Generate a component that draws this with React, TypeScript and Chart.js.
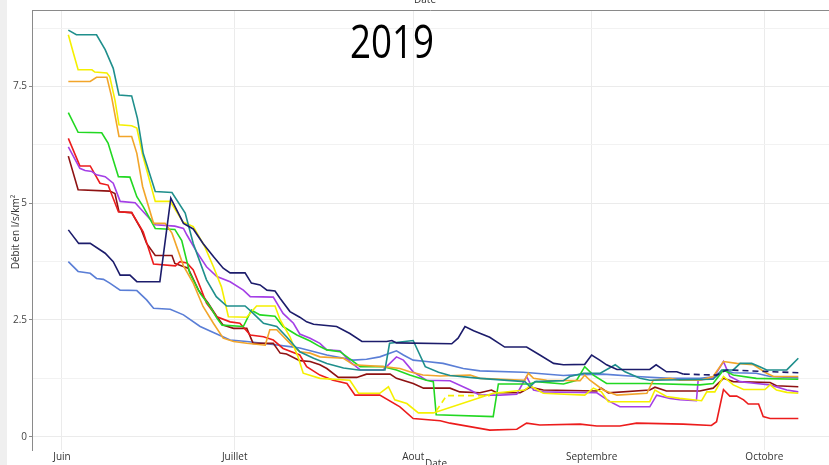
import { useEffect, useRef } from 'react';
import { Chart, registerables } from 'chart.js';

Chart.register(...registerables);

// Days counted from 1 June 2019
const monthTicks = [0, 30, 61, 92, 122];
const monthLabels = ['Juin', 'Juillet', 'Aout', 'Septembre', 'Octobre'];
const yTicks = [0, 1.25, 2.5, 3.75, 5, 6.25, 7.5, 8.75];
const yLabelled = [0, 2.5, 5, 7.5];

const tealPts = [[1.1,8.71],[2.5,8.61],[6.0,8.61],[7.5,8.29],[8.9,7.89],[9.9,7.32],[12.1,7.30],[13.1,6.82],[14.1,6.07],[16.2,5.25],[19.1,5.23],[21.4,4.79],[22.8,4.14],[25.1,3.36],[26.8,3.0],[28.6,2.8],[31.8,2.8],[32.9,2.68],[35.0,2.43],[37.3,2.36],[39.0,2.14],[41.3,1.82],[43.7,1.68],[46.0,1.57],[48.9,1.47],[51.5,1.43],[56.1,1.43],[56.9,2.0],[61.0,2.06],[63.1,1.5],[65.4,1.38],[67.4,1.31],[72.6,1.25],[80.4,1.18],[81.3,1.07],[82.2,1.18],[87.1,1.2],[88.2,1.29],[90.6,1.36],[93.5,1.36],[96.1,1.54],[97.8,1.39],[100.4,1.25],[102.1,1.21],[113.1,1.23],[114.6,1.43],[116.6,1.43],[117.8,1.57],[119.8,1.57],[121.2,1.5],[122.4,1.43],[125.9,1.43],[127.9,1.68]];
const yellowPts = [[1.1,8.61],[2.0,8.21],[2.8,7.86],[5.2,7.86],[5.7,7.81],[7.8,7.79],[8.3,7.71],[9.2,7.21],[9.9,6.68],[12.1,6.66],[13.0,6.61],[14.0,6.04],[16.2,5.04],[18.8,5.04],[21.0,4.6],[22.8,4.5],[24.8,4.07],[26.3,3.64],[27.7,3.21],[28.9,2.57],[32.1,2.56],[33.8,2.8],[37.0,2.8],[37.9,2.5],[39.6,2.14],[40.5,1.86],[41.0,1.71],[41.9,1.36],[44.8,1.25],[50.0,1.21],[51.5,0.93],[55.2,0.93],[56.7,1.07],[57.8,0.79],[59.9,0.71],[61.9,0.51],[64.5,0.51],[74.9,0.93],[80.4,1.0],[81.3,1.09],[83.6,0.93],[90.8,0.89],[92.3,1.04],[93.7,0.96],[94.9,0.75],[102.1,0.75],[103.0,1.0],[105.0,0.86],[107.3,0.82],[111.1,0.77],[112.0,0.96],[113.4,0.96],[114.9,1.29],[116.6,1.11],[118.4,1.01],[122.1,1.01],[123.0,1.11],[124.1,1.0],[125.9,0.95],[127.9,0.93]];
const yellowDashPts = [[65.0,0.55],[66.8,0.88],[74.3,0.88]];
const orangePts = [[1.1,7.61],[4.9,7.61],[6.0,7.7],[7.8,7.7],[8.6,7.29],[9.9,6.43],[12.1,6.43],[13.0,6.07],[14.0,5.36],[15.9,4.57],[17.9,4.57],[19.1,4.36],[21.1,3.66],[22.8,3.29],[24.5,2.79],[26.3,2.43],[28.0,2.11],[29.8,2.04],[32.1,2.0],[35.3,1.96],[36.1,2.29],[37.3,2.29],[39.6,2.0],[41.3,1.82],[43.1,1.79],[44.8,1.71],[48.9,1.68],[50.6,1.54],[55.8,1.5],[58.7,1.46],[60.4,1.39],[62.7,1.32],[65.7,1.3],[70.9,1.32],[72.6,1.25],[80.4,1.21],[81.0,1.36],[81.9,1.25],[84.2,1.21],[90.0,1.2],[90.8,1.32],[91.7,1.21],[94.0,1.0],[96.4,0.89],[101.6,0.93],[102.7,1.21],[105.6,1.25],[107.3,1.21],[110.8,1.21],[113.1,1.29],[114.9,1.61],[117.2,1.57],[120.1,1.54],[122.4,1.36],[123.6,1.29],[127.9,1.29]];
const greenPts = [[1.1,6.94],[2.8,6.52],[6.9,6.51],[8.0,6.29],[9.8,5.57],[11.8,5.56],[13.0,5.14],[14.1,4.93],[16.2,4.46],[19.6,4.44],[20.8,4.2],[22.2,3.5],[24.0,3.07],[25.7,2.79],[26.9,2.54],[27.8,2.39],[31.5,2.36],[32.9,2.71],[34.4,2.61],[37.0,2.58],[38.4,2.36],[40.8,2.18],[43.1,2.05],[44.8,1.93],[46.0,1.86],[48.3,1.82],[51.8,1.5],[55.8,1.5],[58.1,1.43],[60.4,1.32],[63.3,1.21],[64.5,1.18],[65.0,0.47],[74.9,0.43],[75.8,1.13],[81.3,1.13],[82.4,1.18],[87.1,1.13],[89.4,1.21],[90.8,1.5],[92.3,1.32],[94.6,1.14],[101.6,1.14],[110.8,1.11],[113.1,1.14],[114.9,1.43],[116.6,1.32],[120.6,1.25],[127.9,1.23]];
const redPts = [[1.1,6.39],[3.1,5.8],[4.9,5.8],[6.6,5.43],[8.0,5.39],[9.8,4.82],[12.1,4.8],[14.1,4.39],[15.9,3.7],[19.7,3.66],[20.5,3.75],[21.7,3.72],[22.8,3.57],[24.0,3.21],[25.1,2.86],[26.9,2.57],[29.2,2.46],[30.9,2.43],[32.7,2.18],[35.0,2.14],[36.7,2.07],[38.4,1.89],[41.3,1.75],[42.5,1.5],[44.8,1.32],[47.1,1.21],[49.5,1.14],[50.9,0.89],[55.2,0.89],[58.7,0.64],[61.0,0.39],[65.7,0.34],[67.4,0.29],[74.3,0.14],[79.0,0.16],[80.7,0.29],[83.0,0.25],[90.0,0.27],[92.9,0.23],[96.9,0.23],[99.8,0.29],[107.9,0.27],[112.8,0.24],[113.7,0.32],[114.9,1.01],[116.0,0.87],[117.2,0.87],[118.4,0.79],[119.2,0.7],[121.0,0.7],[121.8,0.43],[123.0,0.39],[127.9,0.39]];
const purplePts = [[1.1,6.21],[3.1,5.75],[4.0,5.7],[5.2,5.68],[6.0,5.61],[7.5,5.57],[8.9,5.43],[10.1,5.04],[12.7,5.01],[13.8,4.86],[16.2,4.54],[19.6,4.51],[21.1,4.46],[21.7,4.32],[23.4,3.96],[25.1,3.64],[26.9,3.43],[29.2,3.32],[31.5,3.14],[32.7,3.0],[36.7,2.99],[38.4,2.64],[40.2,2.43],[41.3,2.2],[43.1,2.11],[44.8,2.0],[46.0,1.86],[48.3,1.84],[50.0,1.61],[51.8,1.43],[55.8,1.43],[58.1,1.71],[59.3,1.64],[61.0,1.39],[63.3,1.21],[67.4,1.2],[70.9,1.0],[72.6,0.89],[76.1,0.89],[79.0,0.91],[80.7,1.29],[81.9,1.0],[83.6,0.96],[92.9,0.94],[95.2,0.75],[96.9,0.64],[102.1,0.64],[103.3,0.89],[105.6,0.82],[107.3,0.79],[110.2,0.77],[110.5,1.21],[113.1,1.25],[114.9,1.61],[116.0,1.29],[117.8,1.18],[120.6,1.14],[123.0,1.11],[125.9,1.0],[127.9,0.96]];
const darkRedPts = [[1.1,6.01],[2.8,5.29],[8.3,5.26],[9.2,5.21],[9.9,4.82],[12.1,4.8],[13.8,4.43],[14.7,4.14],[16.2,3.88],[19.1,3.88],[19.6,3.71],[21.9,3.61],[23.7,3.14],[25.4,2.86],[26.9,2.57],[28.0,2.39],[29.8,2.32],[32.1,2.32],[33.2,2.0],[36.7,2.0],[37.9,1.79],[39.0,1.77],[41.3,1.63],[43.1,1.61],[44.8,1.54],[46.0,1.46],[48.0,1.27],[51.2,1.27],[52.9,1.34],[57.0,1.34],[58.1,1.25],[61.0,1.14],[62.8,1.04],[67.4,1.04],[69.1,0.96],[72.6,0.94],[74.6,1.0],[75.5,0.94],[79.6,0.94],[81.3,1.06],[83.6,1.0],[92.9,0.98],[93.7,1.04],[94.9,0.94],[102.1,1.0],[103.0,1.06],[105.0,0.98],[110.8,0.98],[113.1,1.04],[114.9,1.25],[116.6,1.18],[123.0,1.16],[124.1,1.09],[127.9,1.07]];
const navyPts = [[1.1,4.43],[2.9,4.14],[4.9,4.14],[7.5,3.93],[8.9,3.75],[10.1,3.46],[11.8,3.46],[13.0,3.32],[17.0,3.32],[18.9,5.11],[21.1,4.57],[22.8,4.45],[24.5,4.14],[26.3,3.86],[28.0,3.61],[29.2,3.51],[31.8,3.51],[32.9,3.29],[34.4,3.25],[35.6,3.14],[37.0,3.12],[37.9,2.96],[39.6,2.68],[41.3,2.56],[42.5,2.46],[43.7,2.41],[47.7,2.36],[50.0,2.21],[52.1,2.04],[56.4,2.04],[57.3,2.06],[58.1,2.01],[67.7,1.99],[68.8,2.11],[70.0,2.36],[71.5,2.27],[74.3,2.13],[76.9,1.92],[80.7,1.92],[83.0,1.75],[85.4,1.57],[87.1,1.54],[90.8,1.55],[92.0,1.75],[93.4,1.64],[94.6,1.54],[96.4,1.44],[102.1,1.44],[103.2,1.54],[105.0,1.39],[106.8,1.39],[108.0,1.34]];
const navyDashPts = [[108.0,1.34],[113.7,1.32],[115.4,1.43],[127.9,1.37]];
const bluePts = [[1.1,3.75],[2.8,3.54],[4.9,3.5],[6.0,3.39],[7.2,3.37],[8.3,3.29],[10.1,3.14],[13.0,3.13],[14.7,2.93],[15.9,2.75],[18.8,2.73],[21.1,2.61],[24.0,2.36],[26.3,2.23],[29.2,2.07],[32.1,2.04],[35.6,1.99],[39.6,1.93],[41.3,1.9],[46.0,1.75],[50.6,1.64],[52.9,1.66],[55.2,1.71],[58.1,1.84],[59.3,1.75],[61.0,1.64],[63.3,1.61],[66.2,1.57],[69.7,1.46],[72.6,1.41],[80.1,1.38],[87.1,1.31],[90.0,1.33],[94.0,1.34],[99.8,1.29],[105.6,1.25],[110.8,1.25],[113.7,1.29],[114.9,1.43],[116.6,1.37],[120.6,1.36],[123.0,1.29],[127.9,1.26]];

const toXY = (pts: number[][]) => pts.map(([x, y]) => ({ x, y }));

const FONT = '"Open Sans", "DejaVu Sans", sans-serif';

const extras = {
  id: 'extras',
  beforeDraw(chart: any) {
    const { ctx, width, height } = chart;
    ctx.save();
    ctx.fillStyle = '#ffffff';
    ctx.fillRect(0, 0, width, height);
    ctx.fillStyle = '#efefef';
    ctx.fillRect(0, 0, 7, height);
    ctx.restore();
  },
  afterDraw(chart: any) {
    const { ctx, chartArea } = chart;
    ctx.save();
    // top frame line
    ctx.strokeStyle = '#8a8a8a';
    ctx.lineWidth = 1;
    ctx.beginPath();
    ctx.moveTo(chartArea.left, chartArea.top + 0.5);
    ctx.lineTo(chartArea.right, chartArea.top + 0.5);
    ctx.stroke();

    // big year label
    ctx.fillStyle = '#000000';
    ctx.font = `45px ${FONT}`;
    ctx.textBaseline = 'alphabetic';
    ctx.textAlign = 'left';
    const t = '2019';
    const w = ctx.measureText(t).width;
    ctx.save();
    ctx.translate(350, 58);
    ctx.scale(84 / w, 1);
    ctx.fillText(t, 0, 0);
    ctx.restore();

    // axis titles
    ctx.fillStyle = '#333333';
    ctx.font = `10px ${FONT}`;
    ctx.textAlign = 'center';
    ctx.textBaseline = 'alphabetic';
    ctx.fillText('Date', 436, 467);
    ctx.fillText('Date', 425, 2.5);
    ctx.save();
    ctx.translate(19, 232);
    ctx.rotate(-Math.PI / 2);
    ctx.fillText('Débit en l/s/km²', 0, 0);
    ctx.restore();
    ctx.restore();
  },
};

export default function App() {
  const ref = useRef<HTMLCanvasElement | null>(null);
  useEffect(() => {
    if (!ref.current) return;
    const mk = (label: string, pts: number[][], color: string, dash?: number[]) => ({
      label,
      data: toXY(pts),
      borderColor: color,
      backgroundColor: color,
      borderWidth: 1.6,
      pointRadius: 0,
      tension: 0,
      fill: false,
      borderDash: dash || [],
    });
    const chart = new Chart(ref.current, {
      type: 'line',
      data: {
        datasets: [
          mk('navy', navyPts, '#1c1c6b'),
          mk('navyDash', navyDashPts, '#1c1c6b', [6, 4]),
          mk('teal', tealPts, '#1f8f8c'),
          mk('yellow', yellowPts, '#f5f000'),
          mk('yellowDash', yellowDashPts, '#f5f000', [6, 4]),
          mk('orange', orangePts, '#f2a52a'),
          mk('green', greenPts, '#22d822'),
          mk('purple', purplePts, '#a43fe6'),
          mk('red', redPts, '#ec1c1c'),
          mk('darkred', darkRedPts, '#8e1212'),
          mk('blue', bluePts, '#5a7ed6'),
        ],
      },
      options: {
        animation: false,
        responsive: false,
        devicePixelRatio: 1,
        layout: { padding: { top: 10, right: 0, left: 0, bottom: 0 } },
        plugins: { legend: { display: false }, tooltip: { enabled: false }, title: { display: false } },
        scales: {
          x: {
            type: 'linear',
            min: -5.21,
            max: 133.23,
            afterBuildTicks: (s: any) => { s.ticks = monthTicks.map((v) => ({ value: v })); },
            afterFit: (s: any) => { s.height = 15; },
            ticks: {
              autoSkip: false,
              maxRotation: 0,
              padding: 1,
              color: '#333333',
              font: { family: FONT, size: 10 },
              callback: (v: any) => monthLabels[monthTicks.indexOf(Number(v))] ?? '',
            },
            grid: { color: '#ebebeb', drawTicks: false, lineWidth: 1 },
            border: { display: false },
          },
          y: {
            type: 'linear',
            min: -0.285,
            max: 9.14,
            afterBuildTicks: (s: any) => { s.ticks = yTicks.map((v) => ({ value: v })); },
            afterFit: (s: any) => { s.width = 32; },
            ticks: {
              padding: 2,
              color: '#444444',
              font: { family: FONT, size: 10 },
              callback: (v: any) => (yLabelled.includes(Number(v)) ? String(v) : ''),
            },
            grid: {
              color: (c: any) => (yLabelled.includes(c.tick?.value) ? '#ebebeb' : '#f2f2f2'),
              tickLength: 3,
              tickColor: (c: any) => (yLabelled.includes(c.tick?.value) ? '#8a8a8a' : 'rgba(0,0,0,0)'),
            },
            border: { display: true, color: '#8a8a8a', width: 1 },
          },
        },
      },
      plugins: [extras],
    } as any);
    return () => chart.destroy();
  }, []);
  return (
    <div style={{ position: 'absolute', left: 0, top: 0, width: 829, height: 465, overflow: 'hidden' }}>
      <canvas ref={ref} width={829} height={465} style={{ display: 'block' }} />
    </div>
  );
}
